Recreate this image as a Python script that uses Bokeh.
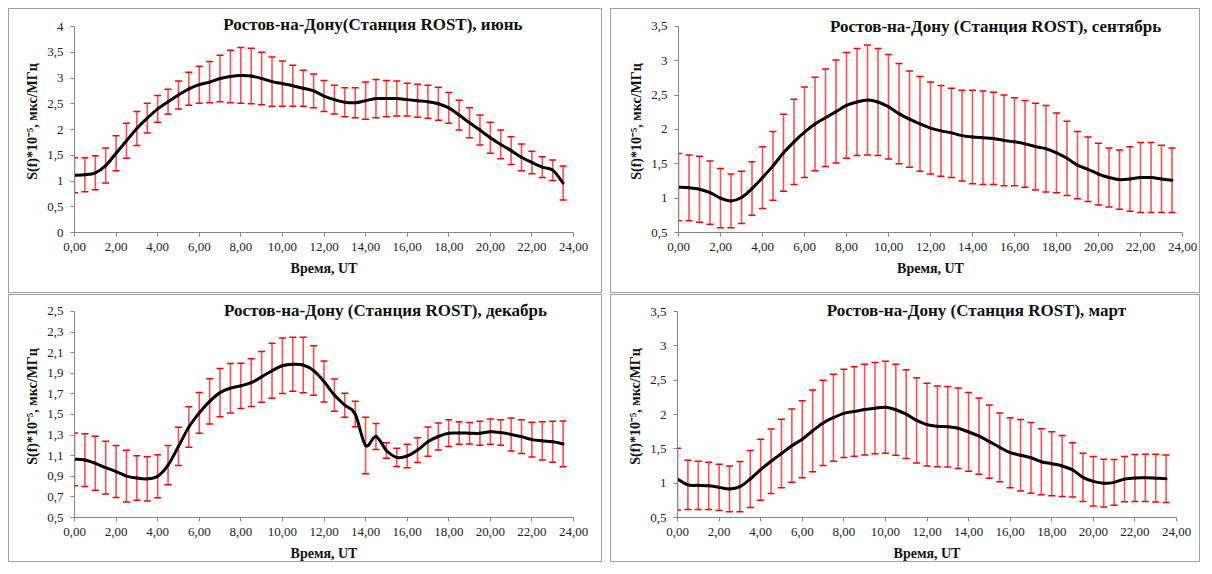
import numpy as np
from bokeh.plotting import figure
from bokeh.models import Range1d, FixedTicker, Whisker, TeeHead, ColumnDataSource, Label
from bokeh.layouts import row, column
from bokeh.embed import file_html
from bokeh.resources import INLINE

hours = [0.0, 0.5, 1.0, 1.5, 2.0, 2.5, 3.0, 3.5, 4.0, 4.5, 5.0, 5.5, 6.0, 6.5, 7.0, 7.5,
         8.0, 8.5, 9.0, 9.5, 10.0, 10.5, 11.0, 11.5, 12.0, 12.5, 13.0, 13.5, 14.0, 14.5, 15.0, 15.5,
         16.0, 16.5, 17.0, 17.5, 18.0, 18.5, 19.0, 19.5, 20.0, 20.5, 21.0, 21.5, 22.0, 22.5, 23.0, 23.5]

june_mean = [1.11, 1.12, 1.16, 1.30, 1.54, 1.78, 2.02, 2.22, 2.40, 2.54, 2.67, 2.79, 2.87, 2.92, 2.99, 3.03,
             3.05, 3.04, 2.99, 2.93, 2.89, 2.85, 2.80, 2.75, 2.65, 2.58, 2.53, 2.52, 2.56, 2.60, 2.60, 2.60,
             2.58, 2.56, 2.54, 2.50, 2.42, 2.28, 2.13, 1.99, 1.84, 1.71, 1.59, 1.46, 1.36, 1.27, 1.21, 0.96]
june_err = [0.34, 0.33, 0.33, 0.34, 0.34, 0.34, 0.33, 0.29, 0.26, 0.24, 0.27, 0.32, 0.36, 0.40, 0.45, 0.51,
            0.54, 0.54, 0.51, 0.48, 0.44, 0.40, 0.35, 0.33, 0.30, 0.28, 0.28, 0.29, 0.36, 0.37, 0.35, 0.34,
            0.32, 0.32, 0.32, 0.32, 0.30, 0.29, 0.29, 0.29, 0.30, 0.28, 0.27, 0.26, 0.22, 0.20, 0.20, 0.33]

sep_mean = [1.16, 1.15, 1.13, 1.08, 1.00, 0.96, 1.01, 1.14, 1.30, 1.47, 1.66, 1.82, 1.96, 2.08, 2.17, 2.26,
            2.35, 2.40, 2.43, 2.40, 2.33, 2.23, 2.15, 2.08, 2.02, 1.98, 1.95, 1.91, 1.89, 1.88, 1.87, 1.84,
            1.82, 1.79, 1.75, 1.72, 1.66, 1.58, 1.48, 1.42, 1.35, 1.30, 1.27, 1.28, 1.30, 1.30, 1.28, 1.26]
sep_err = [0.49, 0.48, 0.48, 0.46, 0.43, 0.39, 0.38, 0.39, 0.45, 0.50, 0.56, 0.62, 0.66, 0.68, 0.71, 0.75,
           0.77, 0.78, 0.80, 0.78, 0.76, 0.73, 0.70, 0.69, 0.67, 0.66, 0.65, 0.66, 0.68, 0.68, 0.67, 0.66,
           0.64, 0.63, 0.63, 0.63, 0.58, 0.54, 0.49, 0.47, 0.45, 0.43, 0.43, 0.47, 0.51, 0.51, 0.49, 0.47]

dec_mean = [1.065, 1.058, 1.026, 0.984, 0.946, 0.902, 0.883, 0.875, 0.900, 1.008, 1.190, 1.378, 1.515, 1.627, 1.712, 1.755,
            1.778, 1.809, 1.865, 1.924, 1.973, 1.987, 1.980, 1.926, 1.820, 1.688, 1.590, 1.505, 1.199, 1.286, 1.150, 1.083,
            1.097, 1.155, 1.236, 1.286, 1.318, 1.320, 1.318, 1.317, 1.333, 1.325, 1.306, 1.285, 1.256, 1.244, 1.235, 1.214]
dec_err = [0.256, 0.256, 0.262, 0.256, 0.253, 0.251, 0.216, 0.214, 0.208, 0.190, 0.185, 0.196, 0.198, 0.220, 0.235, 0.240,
           0.220, 0.232, 0.246, 0.267, 0.270, 0.262, 0.269, 0.240, 0.200, 0.156, 0.116, 0.124, 0.275, 0.127, 0.076, 0.089,
           0.115, 0.120, 0.142, 0.130, 0.130, 0.110, 0.105, 0.116, 0.122, 0.124, 0.160, 0.164, 0.168, 0.185, 0.198, 0.222]

mar_mean = [1.060, 0.975, 0.968, 0.961, 0.939, 0.917, 0.949, 1.061, 1.197, 1.320, 1.432, 1.546, 1.641, 1.763, 1.878, 1.954,
            2.017, 2.044, 2.073, 2.093, 2.107, 2.070, 2.005, 1.915, 1.853, 1.829, 1.822, 1.800, 1.746, 1.685, 1.605, 1.522,
            1.444, 1.407, 1.370, 1.312, 1.283, 1.251, 1.193, 1.085, 1.027, 1.000, 1.012, 1.059, 1.076, 1.078, 1.073, 1.066]
mar_err = [0.450, 0.359, 0.352, 0.344, 0.337, 0.334, 0.366, 0.415, 0.444, 0.469, 0.498, 0.534, 0.561, 0.596, 0.622, 0.634,
           0.644, 0.651, 0.661, 0.666, 0.671, 0.664, 0.646, 0.620, 0.603, 0.588, 0.585, 0.586, 0.574, 0.556, 0.534, 0.500,
           0.510, 0.522, 0.515, 0.480, 0.466, 0.444, 0.395, 0.352, 0.361, 0.347, 0.332, 0.330, 0.342, 0.344, 0.349, 0.346]

x_ticks = [0, 2, 4, 6, 8, 10, 12, 14, 16, 18, 20, 22, 24]
y_ticks_jun = [0, 0.5, 1, 1.5, 2, 2.5, 3, 3.5, 4]
y_ticks_sep = [0.5, 1, 1.5, 2, 2.5, 3, 3.5]
y_ticks_dec = [0.5, 0.7, 0.9, 1.1, 1.3, 1.5, 1.7, 1.9, 2.1, 2.3, 2.5]
y_ticks_mar = [0.5, 1, 1.5, 2, 2.5, 3, 3.5]

titles = ["Ростов-на-Дону(Станция ROST), июнь",
          "Ростов-на-Дону (Станция ROST), сентябрь",
          "Ростов-на-Дону (Станция ROST), декабрь",
          "Ростов-на-Дону (Станция ROST), март"]
x_label = "Время, UT"
y_label = "S(f)*10⁻⁵, мкс/МГц"

SERIF = "Liberation Serif"
AXIS_COL = "#868686"
PAD = 16  # extra px above the top tick so the title is not clipped


def fmt_y(v):
    return ("%g" % v).replace(".", ",")


def make_panel(mean, err, yticks, title, tx, toff, w, h, mb, frame_h):
    ylo, yhi = yticks[0], yticks[-1]
    ytop = yhi + (yhi - ylo) * PAD / frame_h
    p = figure(width=w, height=h, output_backend="svg", toolbar_location=None,
               x_range=Range1d(0, 24), y_range=Range1d(ylo, ytop),
               min_border_left=mb[0], min_border_right=mb[1],
               min_border_top=mb[2] - PAD, min_border_bottom=mb[3])
    p.styles = {"border": "1px solid #a0a0a0"}
    p.outline_line_color = None
    p.xgrid.visible = False
    p.ygrid.visible = False

    p.xaxis.ticker = FixedTicker(ticks=x_ticks)
    p.xaxis.major_label_overrides = {t: ("%.2f" % t).replace(".", ",") for t in x_ticks}
    p.yaxis.ticker = FixedTicker(ticks=yticks)
    p.yaxis.major_label_overrides = {t: fmt_y(t) for t in yticks}
    p.yaxis.bounds = (ylo, yhi)
    for ax in (p.xaxis, p.yaxis):
        ax.axis_line_color = AXIS_COL
        ax.major_tick_line_color = AXIS_COL
        ax.minor_tick_line_color = None
        ax.major_tick_in = 0
        ax.major_tick_out = 4
        ax.major_label_text_font = SERIF
        ax.major_label_text_font_size = "13px"
        ax.major_label_text_color = "#222222"
        ax.axis_label_text_font = SERIF
        ax.axis_label_text_font_style = "bold"
        ax.axis_label_text_color = "#111111"
    p.xaxis.axis_label = x_label
    p.xaxis.axis_label_text_font_size = "14px"
    p.xaxis.major_label_standoff = 6
    p.xaxis.axis_label_standoff = 7
    p.yaxis.axis_label = y_label
    p.yaxis.axis_label_text_font_size = "14px"
    p.yaxis.major_label_standoff = 7
    p.yaxis.axis_label_standoff = 4

    src = ColumnDataSource(dict(x=hours,
                                upper=[m + e for m, e in zip(mean, err)],
                                lower=[m - e for m, e in zip(mean, err)]))
    wk = Whisker(base="x", upper="upper", lower="lower", source=src, dimension="height",
                 line_color="#ff5050", line_width=1.6,
                 upper_head=TeeHead(size=7, line_color="#ff0000", line_width=1.5),
                 lower_head=TeeHead(size=7, line_color="#ff0000", line_width=1.5))
    p.add_layout(wk)

    # smoothed line (Catmull-Rom bezier through the data points)
    xs = np.array(hours)
    ys = np.array(mean)
    xp = np.concatenate([[xs[0]], xs, [xs[-1]]])
    yp = np.concatenate([[ys[0]], ys, [ys[-1]]])
    n = len(xs) - 1
    x0 = xs[:-1]; y0 = ys[:-1]; x1 = xs[1:]; y1 = ys[1:]
    cx0 = x0 + (xp[2:n + 2] - xp[0:n]) / 6.0
    cy0 = y0 + (yp[2:n + 2] - yp[0:n]) / 6.0
    cx1 = x1 - (xp[3:n + 3] - xp[1:n + 1]) / 6.0
    cy1 = y1 - (yp[3:n + 3] - yp[1:n + 1]) / 6.0
    p.bezier(x0=x0, y0=y0, x1=x1, y1=y1, cx0=cx0, cy0=cy0, cx1=cx1, cy1=cy1,
             line_color="black", line_width=3, line_cap="round")

    lbl = Label(x=tx, y=yhi, y_offset=toff, text=title, text_align="center", text_baseline="middle",
                text_font=SERIF, text_font_style="bold", text_font_size="17px", text_color="#111111")
    p.add_layout(lbl)
    return p


p1 = make_panel(june_mean, june_err, y_ticks_jun, titles[0], 14.35, 2, 594, 285, (65, 30, 17, 62), 206)
p2 = make_panel(sep_mean, sep_err, y_ticks_sep, titles[1], 15.1, 0, 590, 285, (67, 19, 16, 62), 207)
p3 = make_panel(dec_mean, dec_err, y_ticks_dec, titles[2], 14.96, 1, 594, 268, (65, 30, 14, 46), 207)
p4 = make_panel(mar_mean, mar_err, y_ticks_mar, titles[3], 14.38, 1, 590, 268, (66, 25, 16, 46), 205)

layout = column(row(p1, p2, spacing=8), row(p3, p4, spacing=8), spacing=1, margin=(8, 0, 0, 8))

open("out.html", "w").write(file_html(layout, INLINE))
